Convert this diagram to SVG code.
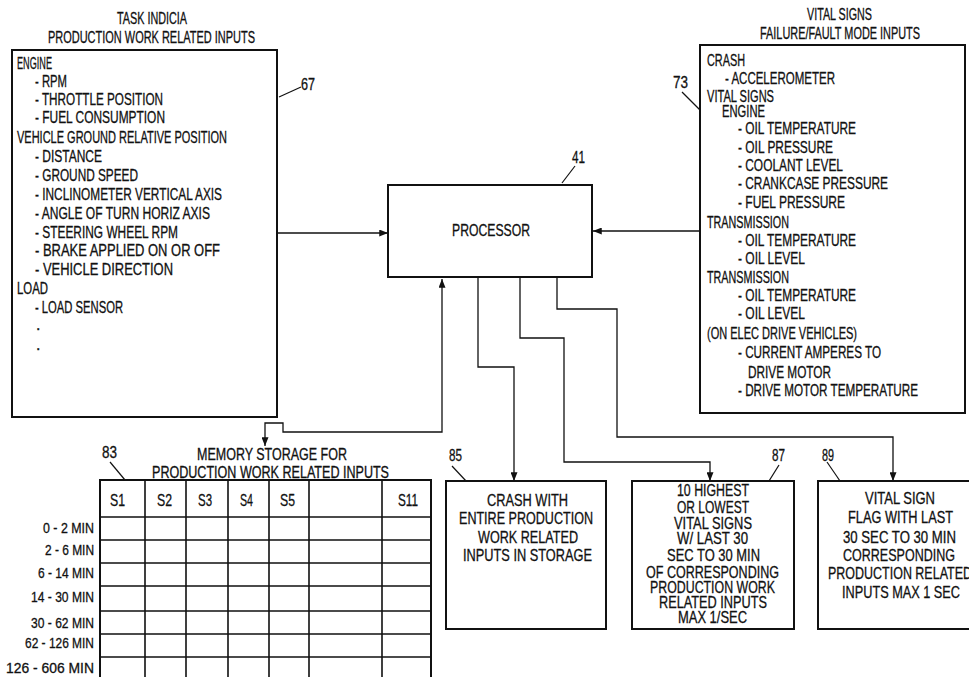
<svg xmlns="http://www.w3.org/2000/svg" width="969" height="677" viewBox="0 0 969 677">
<style>
text{font-family:"Liberation Sans",Arial,sans-serif;font-size:16px;fill:#111;stroke:#111;stroke-width:0.3}
.b{font-size:16.5px}
.n{font-size:14.5px}
.box{fill:#fff;stroke:#111;stroke-width:2}
.grid{fill:none;stroke:#111;stroke-width:1.6}
.c{fill:none;stroke:#111;stroke-width:1.3}
.ld{fill:none;stroke:#111;stroke-width:1.2}
</style>
<defs>
<marker id="ar" viewBox="0 0 10 8" refX="10" refY="4" markerWidth="10" markerHeight="7" markerUnits="userSpaceOnUse" orient="auto-start-reverse">
<path d="M0,0 L10,4 L0,8 Z" fill="#111"/>
</marker>
</defs>
<rect width="969" height="677" fill="#fff" stroke="none"/>

<g id="connectors">
<line class="c" x1="277" y1="233" x2="388" y2="233" marker-end="url(#ar)"/>
<line class="c" x1="699" y1="231" x2="593" y2="231" marker-end="url(#ar)"/>
<path class="c" d="M442,279 V432 H283 V423 H265 V446" marker-start="url(#ar)" marker-end="url(#ar)"/>
<path class="c" d="M478,277 V367 H514 V481" marker-end="url(#ar)"/>
<path class="c" d="M520,277 V338 H564 V462 H710 V481" marker-end="url(#ar)"/>
<path class="c" d="M557,277 V309 H617 V437 H893 V481" marker-end="url(#ar)"/>
</g>

<g id="task-indicia">
<text x="117" y="23.5" textLength="70" lengthAdjust="spacingAndGlyphs">TASK INDICIA</text>
<text x="48" y="42.5" textLength="207" lengthAdjust="spacingAndGlyphs">PRODUCTION WORK RELATED INPUTS</text>
<rect class="box" x="12" y="50" width="265" height="367"/>
<text x="17" y="68.5" textLength="35" lengthAdjust="spacingAndGlyphs">ENGINE</text>
<text x="35" y="86.5" textLength="32" lengthAdjust="spacingAndGlyphs">- RPM</text>
<text x="35" y="104.5" textLength="128" lengthAdjust="spacingAndGlyphs">- THROTTLE POSITION</text>
<text x="35" y="122.5" textLength="130" lengthAdjust="spacingAndGlyphs">- FUEL CONSUMPTION</text>
<text x="17" y="142.5" textLength="210" lengthAdjust="spacingAndGlyphs">VEHICLE GROUND RELATIVE POSITION</text>
<text x="35" y="161.5" textLength="67" lengthAdjust="spacingAndGlyphs">- DISTANCE</text>
<text x="35" y="180.5" textLength="103" lengthAdjust="spacingAndGlyphs">- GROUND SPEED</text>
<text x="35" y="199.5" textLength="187" lengthAdjust="spacingAndGlyphs">- INCLINOMETER VERTICAL AXIS</text>
<text x="35" y="218.5" textLength="175" lengthAdjust="spacingAndGlyphs">- ANGLE OF TURN HORIZ AXIS</text>
<text x="35" y="237.5" textLength="143" lengthAdjust="spacingAndGlyphs">- STEERING WHEEL RPM</text>
<text x="35" y="255.5" textLength="185" lengthAdjust="spacingAndGlyphs">- BRAKE APPLIED ON OR OFF</text>
<text x="35" y="274.5" textLength="138" lengthAdjust="spacingAndGlyphs">- VEHICLE DIRECTION</text>
<text x="17" y="293.5" textLength="31" lengthAdjust="spacingAndGlyphs">LOAD</text>
<text x="35" y="312.5" textLength="88" lengthAdjust="spacingAndGlyphs">- LOAD SENSOR</text>
<text x="36" y="330">.</text>
<text x="36" y="350">.</text>
<line class="ld" x1="279" y1="97" x2="301" y2="87"/>
<text x="301" y="90" textLength="14" lengthAdjust="spacingAndGlyphs">67</text>
</g>

<g id="vital-signs">
<text x="807" y="20" textLength="65" lengthAdjust="spacingAndGlyphs">VITAL SIGNS</text>
<text x="760" y="39" textLength="160" lengthAdjust="spacingAndGlyphs">FAILURE/FAULT MODE INPUTS</text>
<rect class="box" x="700" y="45" width="265" height="368"/>
<text x="707" y="65.5" textLength="38" lengthAdjust="spacingAndGlyphs">CRASH</text>
<text x="725" y="83.5" textLength="110" lengthAdjust="spacingAndGlyphs">- ACCELEROMETER</text>
<text x="707" y="102" textLength="67" lengthAdjust="spacingAndGlyphs">VITAL SIGNS</text>
<text x="722" y="116.5" textLength="43" lengthAdjust="spacingAndGlyphs">ENGINE</text>
<text x="738" y="133.5" textLength="118" lengthAdjust="spacingAndGlyphs">- OIL TEMPERATURE</text>
<text x="738" y="152.5" textLength="95" lengthAdjust="spacingAndGlyphs">- OIL PRESSURE</text>
<text x="738" y="170.5" textLength="105" lengthAdjust="spacingAndGlyphs">- COOLANT LEVEL</text>
<text x="738" y="188.5" textLength="150" lengthAdjust="spacingAndGlyphs">- CRANKCASE PRESSURE</text>
<text x="738" y="207.5" textLength="107" lengthAdjust="spacingAndGlyphs">- FUEL PRESSURE</text>
<text x="707" y="227.5" textLength="82" lengthAdjust="spacingAndGlyphs">TRANSMISSION</text>
<text x="738" y="245.5" textLength="118" lengthAdjust="spacingAndGlyphs">- OIL TEMPERATURE</text>
<text x="738" y="263.5" textLength="67" lengthAdjust="spacingAndGlyphs">- OIL LEVEL</text>
<text x="707" y="282.5" textLength="82" lengthAdjust="spacingAndGlyphs">TRANSMISSION</text>
<text x="738" y="300.5" textLength="118" lengthAdjust="spacingAndGlyphs">- OIL TEMPERATURE</text>
<text x="738" y="318.5" textLength="67" lengthAdjust="spacingAndGlyphs">- OIL LEVEL</text>
<text x="707" y="338.5" textLength="150" lengthAdjust="spacingAndGlyphs">(ON ELEC DRIVE VEHICLES)</text>
<text x="738" y="357.5" textLength="143" lengthAdjust="spacingAndGlyphs">- CURRENT AMPERES TO</text>
<text x="748" y="377.5" textLength="83" lengthAdjust="spacingAndGlyphs">DRIVE MOTOR</text>
<text x="738" y="395.5" textLength="180" lengthAdjust="spacingAndGlyphs">- DRIVE MOTOR TEMPERATURE</text>
<line class="ld" x1="682" y1="92" x2="700" y2="110"/>
<text x="673" y="88" textLength="15" lengthAdjust="spacingAndGlyphs">73</text>
</g>

<g id="processor">
<rect class="box" x="388" y="185" width="204" height="92"/>
<text x="452" y="235.5" textLength="78" lengthAdjust="spacingAndGlyphs">PROCESSOR</text>
<line class="ld" x1="562" y1="183" x2="575" y2="166"/>
<text x="572" y="163" textLength="13" lengthAdjust="spacingAndGlyphs">41</text>
</g>

<g id="memory-storage">
<text x="197" y="460" textLength="150" lengthAdjust="spacingAndGlyphs">MEMORY STORAGE FOR</text>
<text x="152" y="478" textLength="237" lengthAdjust="spacingAndGlyphs">PRODUCTION WORK RELATED INPUTS</text>
<line class="ld" x1="110" y1="462" x2="125" y2="480"/>
<text x="102" y="458" textLength="15" lengthAdjust="spacingAndGlyphs">83</text>
<rect x="100" y="480" width="331" height="210" fill="#fff" stroke="#111" stroke-width="2"/>
<path class="grid" d="M145,480 V690 M186,480 V690 M228,480 V690 M269,480 V690 M309,480 V690 M382,480 V690 M100,517 H431 M100,540 H431 M100,563 H431 M100,586 H431 M100,611 H431 M100,634 H431 M100,657 H431"/>
<text class="b" x="110" y="506" textLength="15" lengthAdjust="spacingAndGlyphs">S1</text>
<text class="b" x="157" y="506" textLength="15" lengthAdjust="spacingAndGlyphs">S2</text>
<text class="b" x="198" y="506" textLength="14" lengthAdjust="spacingAndGlyphs">S3</text>
<text class="b" x="240" y="506" textLength="13" lengthAdjust="spacingAndGlyphs">S4</text>
<text class="b" x="280" y="506" textLength="15" lengthAdjust="spacingAndGlyphs">S5</text>
<text class="b" x="398" y="506" textLength="20" lengthAdjust="spacingAndGlyphs">S11</text>
<text class="n" x="43" y="533" textLength="51" lengthAdjust="spacingAndGlyphs">0 - 2 MIN</text>
<text class="n" x="45" y="555" textLength="49" lengthAdjust="spacingAndGlyphs">2 - 6 MIN</text>
<text class="n" x="38" y="578" textLength="56" lengthAdjust="spacingAndGlyphs">6 - 14 MIN</text>
<text class="n" x="31" y="602" textLength="63" lengthAdjust="spacingAndGlyphs">14 - 30 MIN</text>
<text class="n" x="31" y="628" textLength="63" lengthAdjust="spacingAndGlyphs">30 - 62 MIN</text>
<text class="n" x="25" y="648" textLength="69" lengthAdjust="spacingAndGlyphs">62 - 126 MIN</text>
<text class="n" x="6" y="673" textLength="88" lengthAdjust="spacingAndGlyphs">126 - 606 MIN</text>
</g>

<g id="crash-storage">
<rect class="box" x="446" y="481" width="160" height="148"/>
<line class="ld" x1="452" y1="466" x2="466" y2="481"/>
<text x="449" y="461" textLength="13" lengthAdjust="spacingAndGlyphs">85</text>
<text class="b" x="487" y="506" textLength="81" lengthAdjust="spacingAndGlyphs">CRASH WITH</text>
<text class="b" x="459" y="524" textLength="134" lengthAdjust="spacingAndGlyphs">ENTIRE PRODUCTION</text>
<text class="b" x="478" y="543" textLength="100" lengthAdjust="spacingAndGlyphs">WORK RELATED</text>
<text class="b" x="463" y="561" textLength="129" lengthAdjust="spacingAndGlyphs">INPUTS IN STORAGE</text>
</g>

<g id="vital-extremes">
<rect class="box" x="632" y="481" width="162" height="148"/>
<line class="ld" x1="779" y1="465" x2="769" y2="481"/>
<text x="772" y="461" textLength="13" lengthAdjust="spacingAndGlyphs">87</text>
<text class="b" x="677" y="496" textLength="72" lengthAdjust="spacingAndGlyphs">10 HIGHEST</text>
<text class="b" x="677" y="513" textLength="72" lengthAdjust="spacingAndGlyphs">OR LOWEST</text>
<text class="b" x="674" y="529" textLength="78" lengthAdjust="spacingAndGlyphs">VITAL SIGNS</text>
<text class="b" x="677" y="544" textLength="71" lengthAdjust="spacingAndGlyphs">W/ LAST 30</text>
<text class="b" x="667" y="561" textLength="93" lengthAdjust="spacingAndGlyphs">SEC TO 30 MIN</text>
<text class="b" x="646" y="578" textLength="133" lengthAdjust="spacingAndGlyphs">OF CORRESPONDING</text>
<text class="b" x="650" y="593" textLength="125" lengthAdjust="spacingAndGlyphs">PRODUCTION WORK</text>
<text class="b" x="659" y="608" textLength="108" lengthAdjust="spacingAndGlyphs">RELATED INPUTS</text>
<text class="b" x="678" y="623" textLength="69" lengthAdjust="spacingAndGlyphs">MAX 1/SEC</text>
</g>

<g id="vital-flag">
<rect class="box" x="818" y="481" width="160" height="148"/>
<line class="ld" x1="827" y1="462" x2="840" y2="481"/>
<text x="822" y="461" textLength="12" lengthAdjust="spacingAndGlyphs">89</text>
<text class="b" x="865" y="504" textLength="70" lengthAdjust="spacingAndGlyphs">VITAL SIGN</text>
<text class="b" x="848" y="523" textLength="105" lengthAdjust="spacingAndGlyphs">FLAG WITH LAST</text>
<text class="b" x="843" y="543" textLength="113" lengthAdjust="spacingAndGlyphs">30 SEC TO 30 MIN</text>
<text class="b" x="843" y="561" textLength="112" lengthAdjust="spacingAndGlyphs">CORRESPONDING</text>
<text class="b" x="828" y="579" textLength="144" lengthAdjust="spacingAndGlyphs">PRODUCTION RELATED</text>
<text class="b" x="842" y="598" textLength="118" lengthAdjust="spacingAndGlyphs">INPUTS MAX 1 SEC</text>
</g>
</svg>
